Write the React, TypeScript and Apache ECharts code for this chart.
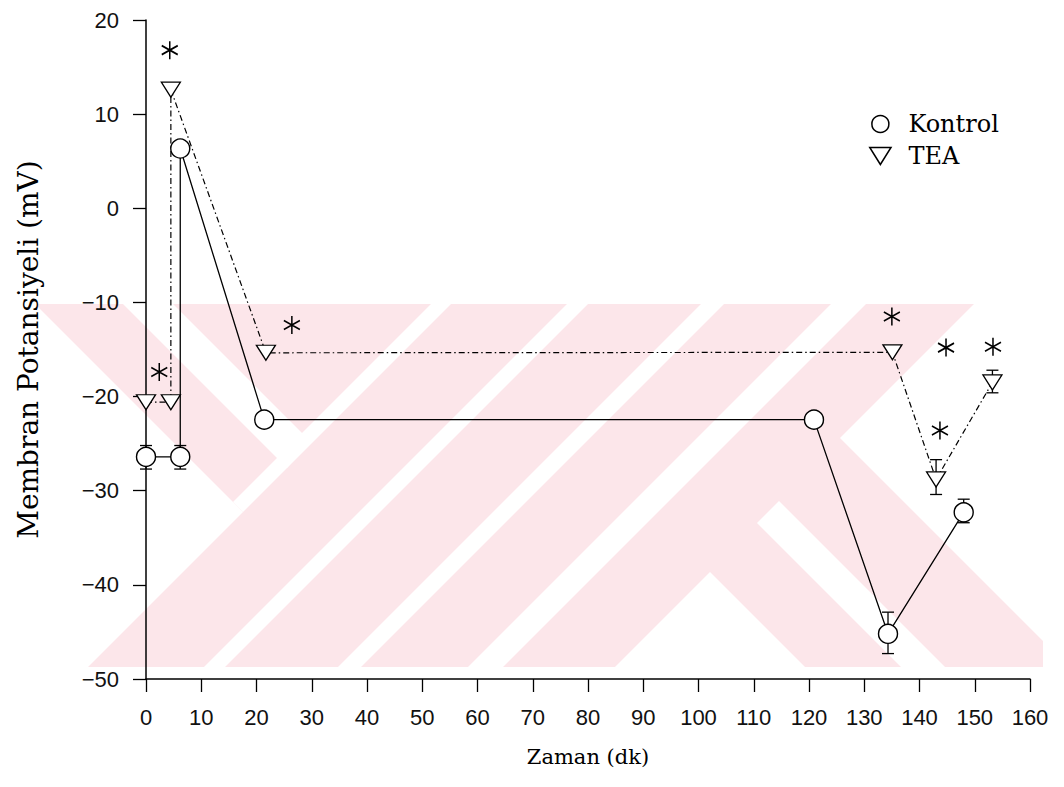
import React, { useEffect, useRef } from "react";
import * as echarts from "echarts";

// ---- data ----
const kontrolX = [0, 6.2, 6.2, 21.4, 120.9, 134.3, 148.0];
const kontrolY = [-26.4, -26.4, 6.35, -22.45, -22.45, -45.2, -32.3];

const teaX = [0, 4.5, 4.5, 21.7, 135.1, 143.0, 153.2];
const teaY = [-20.6, -20.6, 12.6, -15.35, -15.3, -28.8, -18.5];

// error bars: [x, low, high]
const kontrolErrX = [0, 6.2, 134.3, 148.0];
const kontrolErrLow = [-27.7, -27.7, -47.3, -33.4];
const kontrolErrHigh = [-25.2, -25.2, -42.9, -30.9];

const teaErrX = [143.0, 153.2];
const teaErrLow = [-30.4, -19.6];
const teaErrHigh = [-26.7, -17.2];

// significance markers (*)
const starX = [2.4, 4.3, 26.4, 135.0, 143.7, 144.8, 153.3];
const starY = [-17.4, 16.8, -12.4, -11.5, -23.6, -14.8, -14.7];

const legendNames = ["Kontrol", "TEA"];
const xTicks = { min: 0, max: 160, step: 10 };
const yTicks = { min: -50, max: 20, step: 10 };

// ---- decoration (background watermark), pixel geometry ----
const WM_PINK = "#fce6ea";
const wmRect = { x: 37, y: 304, w: 1006, h: 363 };
const wmWhite: number[][][] = [
  [[37, 306], [243, 512], [88, 667], [37, 667]],
  [[123, 304], [173, 304], [310, 441], [287, 468]],
  [[431, 304], [451, 304], [243, 512], [233, 502]],
  [[567, 304], [588, 304], [225, 667], [204, 667]],
  [[701, 304], [724, 304], [361, 667], [338, 667]],
  [[831, 304], [866, 304], [503, 667], [468, 667]],
  [[974, 304], [1043, 304], [1043, 641], [840, 438]],
  [[757, 523], [779, 501], [945, 667], [901, 667]],
  [[710, 572], [805, 667], [615, 667]],
];

const TRI = "path://M0,0 L20,0 L10,16 Z";
const STAR =
  "path://M0,-10 L0,10 M-8.66,-5 L8.66,5 M-8.66,5 L8.66,-5";

const fmtMinus = (v: number) => (v < 0 ? "\u2212" + Math.abs(v) : String(v));

export default function App() {
  const ref = useRef<HTMLDivElement>(null);

  useEffect(() => {
    document.body.style.margin = "0";
    const chart = echarts.init(ref.current!, null, { renderer: "svg" });

    const errRender = (params: any, api: any) => {
      const x = api.value(0);
      const lo = api.value(1);
      const hi = api.value(2);
      const p1 = api.coord([x, hi]);
      const p2 = api.coord([x, lo]);
      const w = 6;
      const st = { stroke: "#000", lineWidth: 1.3 };
      return {
        type: "group",
        children: [
          { type: "line", shape: { x1: p1[0], y1: p1[1], x2: p2[0], y2: p2[1] }, style: st },
          { type: "line", shape: { x1: p1[0] - w, y1: p1[1], x2: p1[0] + w, y2: p1[1] }, style: st },
          { type: "line", shape: { x1: p2[0] - w, y1: p2[1], x2: p2[0] + w, y2: p2[1] }, style: st },
        ],
      };
    };

    const axisCommon = {
      type: "value" as const,
      splitLine: { show: false },
      axisLine: { show: true, onZero: false, lineStyle: { color: "#000", width: 1.5 } },
      axisTick: { show: true, length: 13, lineStyle: { color: "#000", width: 1.3 } },
      axisLabel: {
        margin: 27,
        fontFamily: "Liberation Sans",
        fontSize: 22,
        color: "#111",
        formatter: fmtMinus,
      },
      nameLocation: "middle" as const,
    };

    const option: any = {
      animation: false,
      backgroundColor: "#fff",
      graphic: {
        elements: [
          {
            type: "rect",
            silent: true,
            z: -10,
            shape: { x: wmRect.x, y: wmRect.y, width: wmRect.w, height: wmRect.h },
            style: { fill: WM_PINK },
          },
          ...wmWhite.map((pts) => ({
            type: "polygon",
            silent: true,
            z: -9,
            shape: { points: pts },
            style: { fill: "#fff" },
          })),
        ],
      },
      grid: { left: 146, right: 34, top: 20, bottom: 108 },
      xAxis: {
        ...axisCommon,
        min: xTicks.min,
        max: xTicks.max,
        interval: xTicks.step,
        name: "Zaman (dk)",
        nameGap: 67,
        nameTextStyle: { fontFamily: "DejaVu Serif", fontSize: 21, color: "#000" },
      },
      yAxis: {
        ...axisCommon,
        min: yTicks.min,
        max: yTicks.max,
        interval: yTicks.step,
        name: "Membran Potansiyeli (mV)",
        nameGap: 104,
        nameTextStyle: { fontFamily: "DejaVu Serif", fontSize: 28, color: "#000" },
      },
      legend: {
        orient: "vertical",
        left: 864,
        top: 107,
        itemWidth: 46,
        itemHeight: 17,
        itemGap: 8,
        selectedMode: false,
        data: [
          { name: legendNames[0], icon: "circle" },
          { name: legendNames[1], icon: TRI },
        ],
        itemStyle: { color: "#fff", borderColor: "#000", borderWidth: 1.5 },
        textStyle: { fontFamily: "DejaVu Serif", fontSize: 24, color: "#000" },
      },
      series: [
        {
          name: "KontrolErr",
          type: "custom",
          z: 1,
          silent: true,
          renderItem: errRender,
          encode: { x: 0, y: [1, 2] },
          data: kontrolErrX.map((x, i) => [x, kontrolErrLow[i], kontrolErrHigh[i]]),
        },
        {
          name: "TEAErr",
          type: "custom",
          z: 1,
          silent: true,
          renderItem: errRender,
          encode: { x: 0, y: [1, 2] },
          data: teaErrX.map((x, i) => [x, teaErrLow[i], teaErrHigh[i]]),
        },
        {
          name: legendNames[0],
          type: "line",
          z: 3,
          data: kontrolX.map((x, i) => [x, kontrolY[i]]),
          symbol: "circle",
          symbolSize: 19,
          showAllSymbol: true,
          itemStyle: { color: "#fff", borderColor: "#000", borderWidth: 1.4 },
          lineStyle: { color: "#000", width: 1.3 },
          emphasis: { disabled: true },
        },
        {
          name: legendNames[1],
          type: "line",
          z: 3,
          data: teaX.map((x, i) => [x, teaY[i]]),
          symbol: TRI,
          symbolSize: [19, 15],
          showAllSymbol: true,
          itemStyle: { color: "#fff", borderColor: "#000", borderWidth: 1.3 },
          lineStyle: { color: "#000", width: 1.2, type: [6, 3, 1.5, 3] },
          emphasis: { disabled: true },
        },
        {
          name: "Signif",
          type: "scatter",
          z: 4,
          silent: true,
          data: starX.map((x, i) => [x, starY[i]]),
          symbol: STAR,
          symbolSize: [16, 18],
          itemStyle: { color: "none", borderColor: "#000", borderWidth: 1.6, opacity: 1 },
          emphasis: { disabled: true },
        },
      ],
    };

    chart.setOption(option);
    return () => chart.dispose();
  }, []);

  return (
    <div
      ref={ref}
      style={{ width: 1064, height: 787, overflow: "hidden", background: "#fff" }}
    />
  );
}
